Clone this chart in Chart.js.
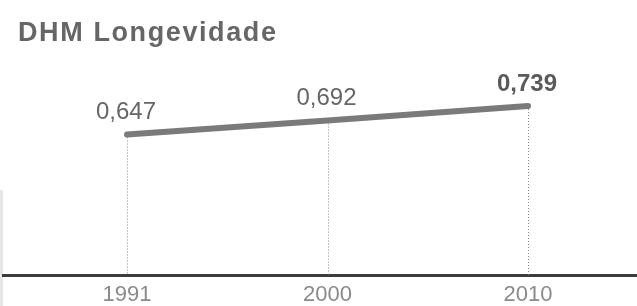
<!DOCTYPE html>
<html>
<head>
<meta charset="utf-8">
<script src="https://cdn.jsdelivr.net/npm/chart.js@4"></script>
<style>
  html, body { margin: 0; padding: 0; background: #fff; }
  #wrap { position: relative; width: 637px; height: 306px; overflow: hidden; }
  #strip { position: absolute; left: 0; top: 190px; width: 3px; height: 116px; background: #e6e6e2; }
  canvas { position: absolute; left: 0; top: 0; }
</style>
</head>
<body>
<div id="wrap">
  <div id="strip"></div>
  <canvas id="c" width="637" height="306"></canvas>
</div>
<script>
const chartTitle = 'DHM Longevidade';
const categories = ['1991', '2000', '2010'];
const values = [0.647, 0.692, 0.739];

const FONT = "'Liberation Sans', Arial, sans-serif";

const titlePlugin = {
  id: 'titleText',
  afterDraw(chart) {
    const ctx = chart.ctx;
    ctx.save();
    ctx.font = 'bold 27px ' + FONT;
    ctx.fillStyle = '#666666';
    ctx.textBaseline = 'alphabetic';
    ctx.textAlign = 'left';
    try { ctx.letterSpacing = '1.6px'; } catch (e) {}
    ctx.fillText(chartTitle, 18, 41);
    ctx.restore();
  }
};

const dropLines = {
  id: 'dropLines',
  beforeDatasetsDraw(chart) {
    const ctx = chart.ctx;
    const meta = chart.getDatasetMeta(0);
    const bottom = chart.chartArea.bottom;
    ctx.save();
    ctx.strokeStyle = '#8a8a8a';
    ctx.lineWidth = 1;
    ctx.setLineDash([1, 2]);
    meta.data.forEach(pt => {
      const x = Math.round(pt.x) + 0.5;
      ctx.beginPath();
      ctx.moveTo(x, pt.y);
      ctx.lineTo(x, bottom);
      ctx.stroke();
    });
    ctx.restore();
  }
};

const valueLabels = {
  id: 'valueLabels',
  afterDatasetsDraw(chart) {
    const ctx = chart.ctx;
    const meta = chart.getDatasetMeta(0);
    ctx.save();
    ctx.textAlign = 'center';
    ctx.textBaseline = 'middle';
    meta.data.forEach((pt, i) => {
      const last = i === values.length - 1;
      ctx.font = (last ? 'bold ' : '') + '24px ' + FONT;
      ctx.fillStyle = last ? '#5a5a5a' : '#666666';
      ctx.fillText(values[i].toFixed(3).replace('.', ','), pt.x - 1, pt.y - 22);
    });
    ctx.restore();
  }
};

new Chart(document.getElementById('c'), {
  type: 'line',
  data: {
    datasets: [{
      data: values.map((v, i) => ({ x: i, y: v })),
      borderColor: '#7a7a7a',
      borderWidth: 6,
      borderCapStyle: 'round',
      pointRadius: 0,
      tension: 0,
      fill: false
    }]
  },
  options: {
    responsive: false,
    animation: false,
    events: [],
    layout: { padding: { left: 3, right: 0, top: 60, bottom: 0 } },
    plugins: { legend: { display: false }, tooltip: { enabled: false }, title: { display: false } },
    scales: {
      x: {
        type: 'linear',
        min: -0.6185,
        max: 2.5436,
        afterBuildTicks(scale) { scale.ticks = categories.map((c, i) => ({ value: i })); },
        afterFit(scale) { scale.height = 31; },
        grid: { display: false, drawTicks: false },
        border: { display: true, color: '#3c3c3c', width: 3 },
        ticks: {
          padding: 7,
          autoSkip: false,
          maxRotation: 0,
          color: '#8a8a8a',
          font: { family: FONT, size: 22 },
          callback: (v) => categories[v]
        }
      },
      y: {
        display: false,
        min: 0.1935,
        max: 0.8875
      }
    }
  },
  plugins: [dropLines, valueLabels, titlePlugin]
});
</script>
</body>
</html>
